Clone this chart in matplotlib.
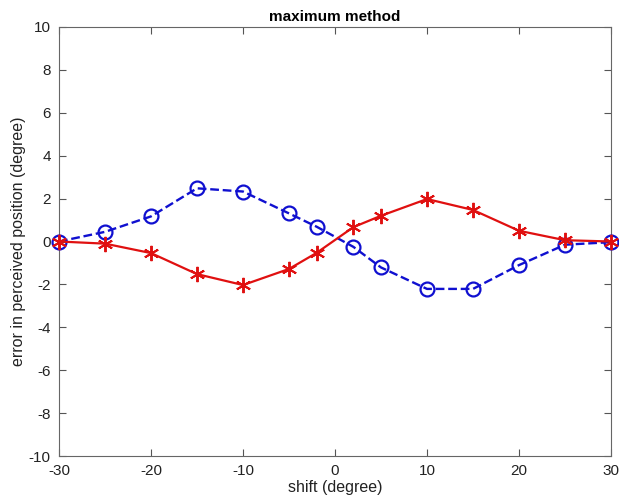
import numpy as np
import matplotlib.pyplot as plt

plt.rcParams['font.family'] = ['Liberation Sans', 'DejaVu Sans']
plt.rcParams['axes.unicode_minus'] = False

# shift positions (degree)
shift = [-30, -25, -20, -15, -10, -5, -2, 2, 5, 10, 15, 20, 25, 30]
# error in perceived position for the two curves
err_circle = [0.0, 0.45, 1.17, 2.48, 2.33, 1.31, 0.69, -0.25, -1.21, -2.21, -2.21, -1.1, -0.15, -0.03]
err_star = [0.0, -0.1, -0.54, -1.52, -2.03, -1.28, -0.53, 0.67, 1.2, 1.98, 1.47, 0.5, 0.06, 0.0]

fig = plt.figure(figsize=(6.19, 4.99), dpi=100)
ax = fig.add_axes([59/619, 1-456/499, 552/619, 429/499])

ax.plot(shift, err_circle, '--', color='#1010d0', lw=1.7,
        marker='o', ms=10, mfc='none', mew=1.6, clip_on=False, zorder=3)
ax.plot(shift, err_star, '-', color='#e01010', lw=1.6,
        marker=(6, 2, 0), ms=11, mew=1.4, clip_on=False, zorder=4)

ax.set_xlim(-30, 30)
ax.set_ylim(-10, 10)
ax.set_xticks(np.arange(-30, 31, 10))
ax.set_yticks(np.arange(-10, 11, 2))
ax.tick_params(direction='in', top=True, right=True, labelsize=11,
               color='#555555', labelcolor='#222222', length=5)
ax.tick_params(axis='y', pad=6)
ax.tick_params(axis='x', pad=6)
for s in ax.spines.values():
    s.set_color('#666666')
    s.set_linewidth(0.8)

ax.set_title('maximum method', fontsize=11, fontweight='bold', pad=4)
ax.set_xlabel('shift (degree)', fontsize=11.5, labelpad=1, color='#222222')
ax.set_ylabel('error in perceived position (degree)', fontsize=11.5, labelpad=2, color='#222222')

fig.savefig('out.png', dpi=100)
